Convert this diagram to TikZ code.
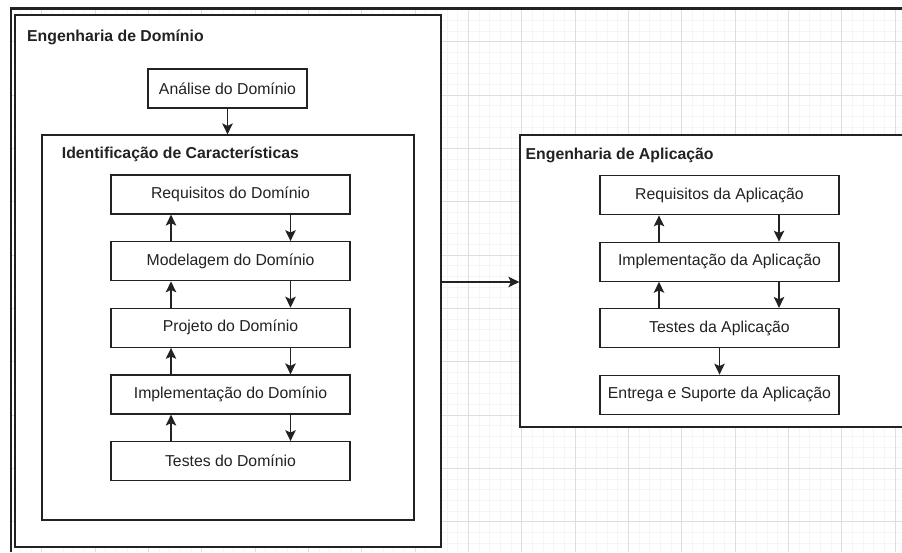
\documentclass[tikz,border=0pt]{standalone}
\usepackage{fontspec}
\setmainfont{Liberation Sans}
\usetikzlibrary{arrows.meta}
\definecolor{ink}{HTML}{222222}
\definecolor{gridmajor}{HTML}{DEDEDE}
\definecolor{gridminor}{HTML}{F5F5F5}
\tikzset{
  stepbox/.style={draw=ink, line width=1.2pt, fill=white, rectangle, inner sep=0pt,
    minimum width=239pt, minimum height=39pt, text=ink,
    font=\fontsize{15.8pt}{19pt}\selectfont},
  groupbox/.style={draw=ink, line width=1.2pt, fill=white, rectangle, inner sep=0pt},
  grouptitle/.style={anchor=base west, inner sep=0pt, text=ink,
    font=\fontsize{15.8pt}{19pt}\selectfont\bfseries},
  arr/.style={draw=ink, line width=1.4pt, -{Stealth[length=11pt,width=10.5pt,inset=2.5pt]}},
  gminor/.style={draw=gridminor, line width=0.6pt},
  gmajor/.style={draw=gridmajor, line width=0.8pt},
}
\begin{document}
\begin{tikzpicture}[x=1pt, y=-1pt]
\useasboundingbox (0,0) rectangle (902,552);
\clip (0,0) rectangle (902,552);
\fill[white] (0,0) rectangle (902,552);
% background grid
\begin{scope}
\clip (11,8) rectangle (902,552);
\foreach \i in {0,...,90} {
  \draw[gminor] ({-11.63+10.667*\i},8) -- ({-11.63+10.667*\i},552);
}
\foreach \i in {0,...,55} {
  \draw[gminor] (11,{-11.63+10.667*\i}) -- (902,{-11.63+10.667*\i});
}
\foreach \i in {0,...,17} {
  \draw[gmajor] ({-11.63+53.33*\i},8) -- ({-11.63+53.33*\i},552);
}
\foreach \i in {0,...,11} {
  \draw[gmajor] (11,{-11.63+53.33*\i}) -- (902,{-11.63+53.33*\i});
}
\end{scope}
% screenshot frame
\draw[ink, line width=2.5pt] (10,8.5) -- (902,8.5);
\draw[ink, line width=2pt] (11,8.5) -- (11,552);

% Engenharia de Dominio
\node[groupbox, minimum width=426pt, minimum height=532pt] (dom) at (228,281) {};
\node[grouptitle] (domt) at (27,41.7) {Engenharia de Domínio};
\node[stepbox, minimum width=159pt] (ana) at (227.5,88.5) {Análise do Domínio};
\node[groupbox, minimum width=372pt, minimum height=385pt] (ident) at (228,327.5) {};
\node[grouptitle] (identt) at (61.7,158.5) {Identificação de Características};

\node[stepbox] (d1) at (230.5,194.5) {Requisitos do Domínio};
\node[stepbox] (d2) at (230.5,261.2) {Modelagem do Domínio};
\node[stepbox] (d3) at (230.5,327.8) {Projeto do Domínio};
\node[stepbox] (d4) at (230.5,394.5) {Implementação do Domínio};
\node[stepbox] (d5) at (230.5,461.2) {Testes do Domínio};

\coordinate (dup) at (171,0);
\coordinate (ddn) at (290.5,0);
\draw[arr] (ana.south) -- (ana.south |- ident.north);
\foreach \a/\b in {d1/d2,d2/d3,d3/d4,d4/d5} {
  \draw[arr] (\b.north -| dup) -- (\a.south -| dup);
  \draw[arr] (\a.south -| ddn) -- (\b.north -| ddn);
}

% Engenharia de Aplicacao
\node[groupbox, minimum width=392pt, minimum height=292pt] (app) at (716,281) {};
\node[grouptitle] (appt) at (525.5,159.5) {Engenharia de Aplicação};
\node[stepbox] (a1) at (719.5,195.3) {Requisitos da Aplicação};
\node[stepbox] (a2) at (719.5,261.7) {Implementação da Aplicação};
\node[stepbox] (a3) at (719.5,328) {Testes da Aplicação};
\node[stepbox] (a4) at (719.5,394.7) {Entrega e Suporte da Aplicação};

\coordinate (aup) at (659,0);
\coordinate (adn) at (779,0);
\foreach \a/\b in {a1/a2,a2/a3} {
  \draw[arr] (\b.north -| aup) -- (\a.south -| aup);
  \draw[arr] (\a.south -| adn) -- (\b.north -| adn);
}
\draw[arr] (a3.south) -- (a4.north);

\coordinate (link) at (0,282);
\draw[arr] (dom.east |- link) -- (app.west |- link);
\end{tikzpicture}
\end{document}
